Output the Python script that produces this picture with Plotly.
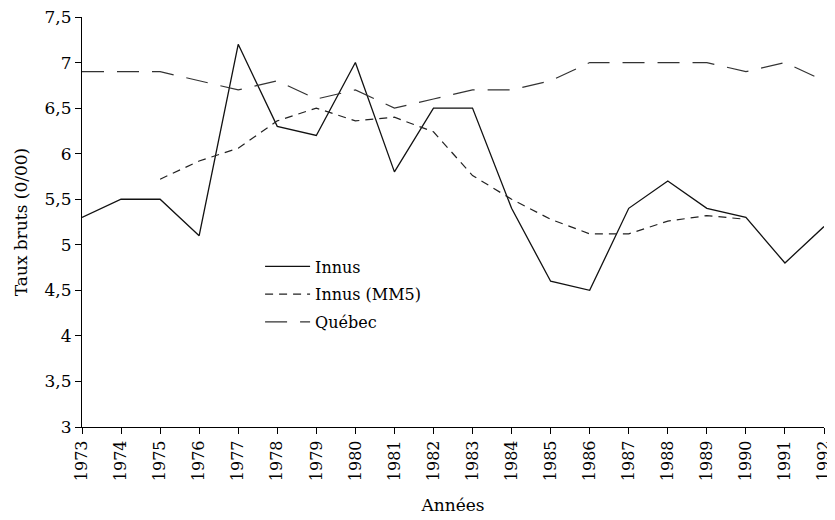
import plotly.graph_objects as go

years = list(range(1973, 1993))
innus = [5.3, 5.5, 5.5, 5.1, 7.2, 6.3, 6.2, 7.0, 5.8, 6.5,
         6.5, 5.4, 4.6, 4.5, 5.4, 5.7, 5.4, 5.3, 4.8, 5.2]
mm5_years = list(range(1975, 1991))
innus_mm5 = [5.72, 5.92, 6.06, 6.36, 6.5, 6.36, 6.4, 6.24,
             5.76, 5.5, 5.28, 5.12, 5.12, 5.26, 5.32, 5.28]
quebec = [6.9, 6.9, 6.9, 6.8, 6.7, 6.8, 6.6, 6.7, 6.5, 6.6,
          6.7, 6.7, 6.8, 7.0, 7.0, 7.0, 7.0, 6.9, 7.0, 6.8]
y_ticks = [3, 3.5, 4, 4.5, 5, 5.5, 6, 6.5, 7, 7.5]

FONT = "DejaVu Serif"

fig = go.Figure()
fig.add_trace(go.Scatter(x=years, y=innus, mode="lines", name="Innus", legendgroup="a",
                         line=dict(color="#111111", width=1.3)))
fig.add_trace(go.Scatter(x=mm5_years, y=innus_mm5, mode="lines", name="Innus (MM5)", legendgroup="b",
                         line=dict(color="#222222", width=1.2, dash="8px,6px")))
fig.add_trace(go.Scatter(x=years, y=quebec, mode="lines", name="Québec", legendgroup="c",
                         line=dict(color="#333333", width=1.2, dash="22px,13px")))

fig.update_layout(
    width=827, height=512,
    margin=dict(l=74, r=11, t=9, b=93),
    paper_bgcolor="white", plot_bgcolor="white",
    separators=", ",
    font=dict(family=FONT, size=16, color="black"),
    showlegend=True,
    legend=dict(x=0.24, y=0.433, xanchor="left", yanchor="top",
                bgcolor="rgba(0,0,0,0)", font=dict(family=FONT, size=16),
                tracegroupgap=4, itemwidth=45),
    xaxis=dict(range=[1973, 1992.0001], tickmode="array", tickvals=years,
               tickformat="d", tickangle=-90, showgrid=False, zeroline=False,
               showline=True, linecolor="black", linewidth=1.2,
               ticks="outside", ticklen=6, tickcolor="black",
               ticklabeloverflow="allow", automargin=False,
               tickfont=dict(family=FONT, size=16),
               title=dict(text="Années", font=dict(family=FONT, size=17), standoff=18)),
    yaxis=dict(range=[3, 7.5001], tickmode="array", tickvals=y_ticks,
               showgrid=False, zeroline=False,
               showline=True, linecolor="black", linewidth=1.2,
               ticks="outside", ticklen=6, tickcolor="black",
               ticklabeloverflow="allow", automargin=False,
               tickfont=dict(family=FONT, size=17),
               title=dict(text="Taux bruts (0/00)", font=dict(family=FONT, size=17), standoff=12)),
)

fig.write_html("out.html")
